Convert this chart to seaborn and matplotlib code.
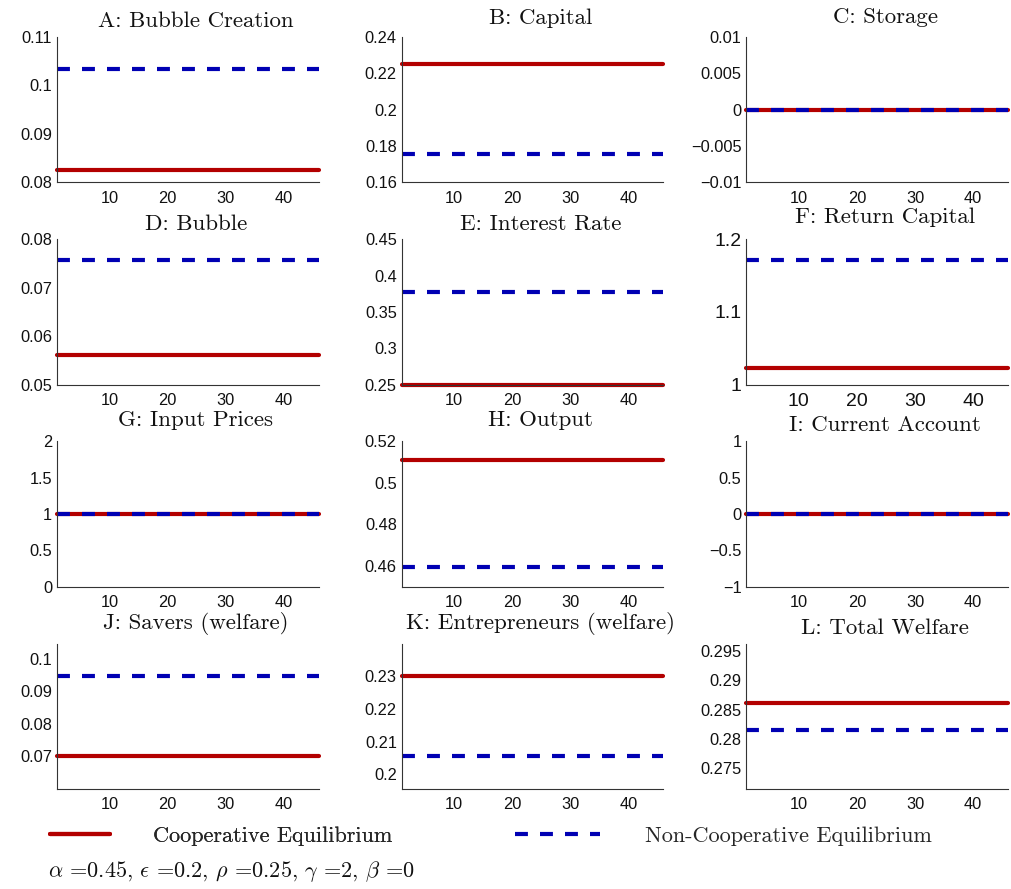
import numpy as np
import pandas as pd
import matplotlib
matplotlib.use("Agg")
import matplotlib.pyplot as plt
from matplotlib.ticker import FuncFormatter
from matplotlib.lines import Line2D
import seaborn as sns

sns.set_theme(style="white")
plt.rcParams["font.family"] = ["Liberation Sans", "DejaVu Sans"]
plt.rcParams["mathtext.fontset"] = "cm"
plt.rcParams["axes.unicode_minus"] = True

# ---------------- data ----------------
titles = ["A: Bubble Creation", "B: Capital", "C: Storage",
          "D: Bubble", "E: Interest Rate", "F: Return Capital",
          "G: Input Prices", "H: Output", "I: Current Account",
          "J: Savers (welfare)", "K: Entrepreneurs (welfare)", "L: Total Welfare"]
coop_values = [0.0825, 0.2251, 0.0, 0.0561, 0.25, 1.0222,
               1.0, 0.5108, 0.0, 0.0700, 0.2300, 0.2862]
noncoop_values = [0.1033, 0.1757, 0.0, 0.0758, 0.377, 1.1713,
                  1.0, 0.4595, 0.0, 0.0946, 0.2057, 0.2816]
periods = list(range(1, 47))
x_ticks = [10, 20, 30, 40]
y_limits = [(0.08, 0.11), (0.16, 0.24), (-0.01, 0.01),
            (0.05, 0.08), (0.25, 0.45), (1.0, 1.2),
            (0.0, 2.0), (0.45, 0.52), (-1.0, 1.0),
            (0.06, 0.1046), (0.1955, 0.24), (0.2715, 0.2963)]
y_ticks = [[0.08, 0.09, 0.1, 0.11], [0.16, 0.18, 0.2, 0.22, 0.24],
           [-0.01, -0.005, 0, 0.005, 0.01],
           [0.05, 0.06, 0.07, 0.08], [0.25, 0.3, 0.35, 0.4, 0.45], [1.0, 1.1, 1.2],
           [0, 0.5, 1, 1.5, 2], [0.46, 0.48, 0.5, 0.52], [-1, -0.5, 0, 0.5, 1],
           [0.07, 0.08, 0.09, 0.1], [0.2, 0.21, 0.22, 0.23],
           [0.275, 0.28, 0.285, 0.29, 0.295]]
series_labels = ["Cooperative Equilibrium", "Non-Cooperative Equilibrium"]
param_text = r"$\alpha$ =0.45, $\epsilon$ =0.2, $\rho$ =0.25, $\gamma$ =2, $\beta$ =0"

# ---------------- style ----------------
RED = "#B30000"
BLUE = "#0000B3"
DASH = (3.1, 2.9)
title_pads_px = [10, 13, 14, 9, 9, 16, 15, 15, 10, 15, 15, 10]
tick_sizes = [11.8, 11.8, 11.8, 11.8, 11.8, 14, 11.8, 11.8, 11.8, 11.8, 11.8, 11.8]
SERIF = "cmr10"
TITLE_SIZE = 16.5

fig, axes = plt.subplots(4, 3, figsize=(10.11, 8.89), dpi=100)
fig.subplots_adjust(left=0.0564, right=0.997, top=0.9584, bottom=0.1125,
                    wspace=0.318, hspace=0.39)

fmt = FuncFormatter(lambda v, p: ("%g" % v).replace("-", "\u2212"))

for i, ax in enumerate(axes.flat):
    df = pd.DataFrame({
        "period": periods * 2,
        "value": [coop_values[i]] * len(periods) + [noncoop_values[i]] * len(periods),
        "series": [series_labels[0]] * len(periods) + [series_labels[1]] * len(periods),
    })
    sns.lineplot(data=df[df.series == series_labels[0]], x="period", y="value",
                 color=RED, lw=3.0, ax=ax, legend=False, clip_on=False)
    sns.lineplot(data=df[df.series == series_labels[1]], x="period", y="value",
                 color=BLUE, lw=3.0, ax=ax, legend=False, clip_on=False)
    ax.lines[1].set_dashes(DASH)
    ax.set_xlim(1, 46)
    ax.set_ylim(*y_limits[i])
    ax.set_xticks(x_ticks)
    ax.set_yticks(y_ticks[i])
    ax.yaxis.set_major_formatter(fmt)
    ax.set_xlabel("")
    ax.set_ylabel("")
    sns.despine(ax=ax)
    for s in ("left", "bottom"):
        ax.spines[s].set_color("#333333")
        ax.spines[s].set_linewidth(0.8)
    ax.tick_params(axis="both", direction="in", length=2.5, width=0.8,
                   color="#333333", labelsize=tick_sizes[i], labelcolor="#111111")
    ax.tick_params(axis="x", pad=6)
    ax.tick_params(axis="y", pad=3.5)
    t = ax.set_title(titles[i], fontfamily=SERIF, fontsize=TITLE_SIZE,
                     pad=title_pads_px[i] * 0.72, color="#111111")
    t.set_x(0.53)

# legend: two entries placed like the reference
h_red = Line2D([], [], color=RED, lw=3.0)
h_blue = Line2D([], [], color=BLUE, lw=3.0, dashes=DASH)
leg_fs = 16
px_per_em = leg_fs * 100 / 72
leg1 = fig.legend([h_red], [series_labels[0]], loc="center left",
                  bbox_to_anchor=(50 / 1011, 1 - 836 / 889), frameon=False,
                  prop={"family": SERIF, "size": leg_fs},
                  handlelength=60 / px_per_em, handletextpad=43 / px_per_em,
                  borderpad=0, borderaxespad=0)
leg2 = fig.legend([h_blue], [series_labels[1]], loc="center left",
                  bbox_to_anchor=(515 / 1011, 1 - 836 / 889), frameon=False,
                  prop={"family": SERIF, "size": leg_fs},
                  handlelength=85 / px_per_em, handletextpad=45 / px_per_em,
                  borderpad=0, borderaxespad=0)
fig.add_artist(leg1)
fig.text(0.0475, 1 - 872 / 889, param_text, fontfamily=SERIF, fontsize=16,
         va="center", ha="left", color="#111111")

fig.savefig("out.png", dpi=100)
